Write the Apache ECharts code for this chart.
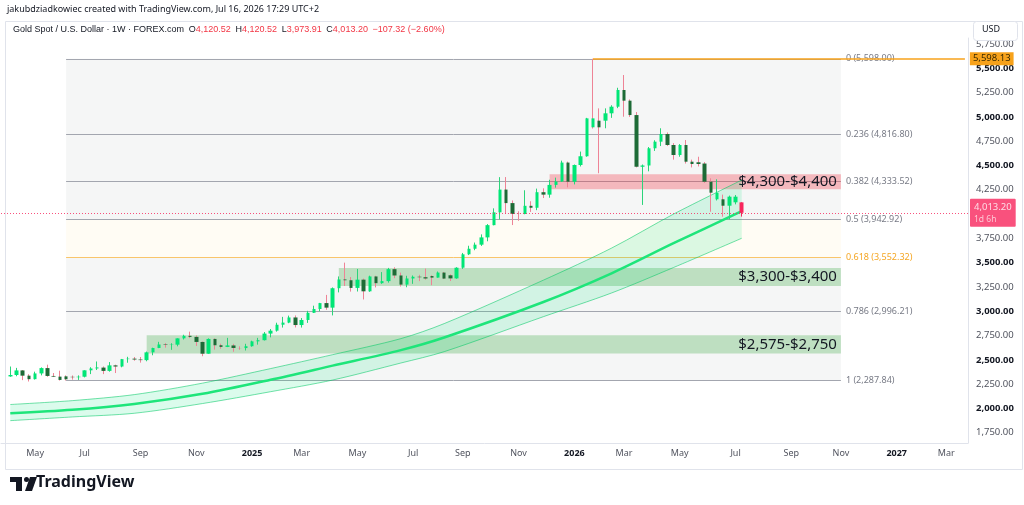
<!DOCTYPE html>
<html>
<head>
<meta charset="utf-8">
<script src="https://cdn.jsdelivr.net/npm/echarts@6/dist/echarts.min.js"></script>
<style>
html,body{margin:0;padding:0;background:#ffffff;}
#chart{width:1024px;height:505px;}
</style>
</head>
<body>
<div id="chart"></div>
<script>
// ---------------- DATA ----------------
const axisStart = '2024-04-01';          // first (empty) weekly slot on the time axis
const axisWeeks = 156;                    // weekly slots shown (to Mar 2027)
const firstCandle = '2024-04-08';         // first weekly candle

const opens  = [2329,2344,2391,2337,2301,2360,2415,2334,2327,2330,2325,2321,2326,2392,2411,2420,2386,2443,2431,2507,2512,2503,2497,2577,2622,2658,2653,2656,2721,2747,2736,2684,2563,2715,2650,2633,2648,2622,2621,2640,2690,2702,2770,2800,2861,2883,2936,2858,2910,2984,3023,3084,3037,3237,3327,3319,3240,3325,3205,3358,3289,3310,3433,3368,3274,3337,3355,3350,3362,3346,3398,3370,3338,3448,3586,3643,3685,3760,3886,4018,4252,4113,4002,4001,4085,4065,4225,4200,4300,4335,4530,4333,4505,4595,4893,4961,4961,5037,5105,5277,5167,5019,4487,4500,4677,4745,4824,4711,4608,4711,4539,4533,4520,4333,4152,4152,4086,4121,4120.52];
const highs  = [2431,2417,2395,2352,2378,2422,2450,2364,2388,2340,2339,2340,2393,2424,2483,2432,2477,2450,2509,2531,2529,2529,2585,2625,2685,2672,2671,2722,2758,2790,2750,2688,2721,2721,2666,2726,2664,2639,2665,2697,2726,2786,2817,2882,2942,2955,2957,2930,3004,3057,3086,3168,3245,3358,3500,3352,3435,3336,3366,3365,3403,3446,3452,3398,3365,3368,3375,3439,3370,3409,3404,3380,3453,3600,3674,3707,3791,3897,4059,4380,4381,4140,4029,4245,4132,4262,4265,4353,4375,4550,4540,4510,4643,4990,5598.13,5088,5088,5120,5300,5431,5180,5050,4510,4690,4760,4883,4840,4730,4720,4762,4560,4590,4535,4368,4358,4200,4190,4196,4120.52];
const lows   = [2325,2331,2291,2277,2297,2340,2325,2323,2287,2287,2296,2293,2319,2353,2395,2353,2378,2364,2423,2470,2491,2471,2485,2547,2620,2625,2603,2639,2709,2723,2643,2537,2563,2605,2614,2631,2583,2603,2596,2635,2656,2699,2731,2790,2832,2877,2833,2832,2880,2982,3000,3015,2957,3194,3260,3202,3203,3121,3200,3245,3282,3294,3340,3255,3247,3282,3310,3325,3268,3346,3331,3311,3334,3436,3578,3628,3672,3720,3884,3945,4004,3887,3931,3998,4022,4040,4165,4168,4272,4330,4275,4305,4490,4590,4880,4420,4883,4990,5090,5002,5000,4480,4094,4440,4650,4700,4700,4560,4590,4520,4480,4490,4320,4024,4140,3973,3946,4100,3973.91];
const closes = [2344,2391,2337,2301,2360,2415,2334,2327,2293,2300,2321,2326,2392,2411,2422,2386,2443,2431,2507,2512,2503,2497,2577,2622,2658,2653,2656,2721,2747,2736,2684,2563,2715,2650,2633,2648,2622,2621,2640,2690,2702,2770,2800,2861,2883,2936,2858,2910,2984,3023,3084,3037,3237,3327,3319,3240,3325,3205,3358,3289,3310,3433,3368,3274,3337,3355,3350,3337,3346,3398,3336,3338,3448,3586,3643,3685,3760,3886,4018,4252,4113,4002,4001,4085,4065,4225,4200,4300,4335,4530,4333,4505,4595,4985,4985,4893,5037,5105,5277,5167,5019,4487,4500,4677,4745,4824,4711,4608,4711,4539,4515,4515,4333,4220,4220,4086,4179,4179,4013.20];

// regression channel (lower / middle / upper)
const bandDates = ['2024-04-08','2024-06-17','2024-08-26','2024-11-11','2025-01-27','2025-04-07','2025-06-23','2025-08-11','2025-12-01','2026-02-16','2026-04-27','2026-07-13'];
const bandLower = [1874,1912,1950,2050,2172,2292,2467,2584,2944,3188,3450,3751];
const bandMid   = [1950,1985,2045,2150,2295,2440,2600,2730,3095,3390,3700,4030];
const bandUpper = [2040,2080,2142,2260,2410,2553,2718,2873,3320,3650,4000,4350];

// Fibonacci retracement
const fibFrom = '2024-06-10';
const fibTo = '2026-11-02';
const fibRatios = ['0','0.236','0.382','0.5','0.618','0.786','1'];
const fibPrices = [5598.00,4816.80,4333.52,3942.92,3552.32,2996.21,2287.84];

// support / resistance zones
const zoneFrom   = ['2025-12-08','2025-04-14','2024-09-09'];
const zoneLow    = [4255,3260,2565];
const zoneHigh   = [4410,3445,2753];
const zoneLabels = ['$4,300-$4,400','$3,300-$3,400','$2,575-$2,750'];
const zoneIsRed  = [true,false,false];

// price markers
const athDate = '2026-01-26';
const athPrice = 5598.13;
const lastPrice = 4013.20;
const lastPriceCountdown = '1d 6h';

const yTicks = [1750,2000,2250,2500,2750,3000,3250,3500,3750,4000,4250,4500,4750,5000,5250,5500,5750];
const monthNames = ['Jan','Feb','Mar','Apr','May','Jun','Jul','Aug','Sep','Oct','Nov','Dec'];

const headerLine1 = 'jakubdziadkowiec created with TradingView.com, Jul 16, 2026 17:29 UTC+2';
const symbolTitle = 'Gold Spot / U.S. Dollar · 1W · FOREX.com';
const ohlcText = {O:'4,120.52', H:'4,120.52', L:'3,973.91', C:'4,013.20', chg:'−107.32 (−2.60%)'};

// ---------------- BUILD ----------------
function iso(t){ const d=new Date(t); return d.toISOString().slice(0,10); }
const startT = Date.parse(axisStart+'T00:00:00Z');
const categories = [];
for (let i=0;i<axisWeeks;i++) categories.push(iso(startT + i*7*864e5));
const firstIdx = categories.indexOf(firstCandle);
const lastIdx = firstIdx + opens.length - 1;
const athIdx = categories.indexOf(athDate);
const lastCat = categories[categories.length-1];

const UP='#00e676', DOWN='#1d6b36', DOWN_WICK='#ee8396', UP_WICK='#2bd47a', BELOW='#f7265c';

const wickData = categories.map((c,i)=>{
  const k=i-firstIdx;
  if (k<0 || k>=opens.length) return ['-','-','-','-'];
  return [opens[k],closes[k],lows[k],highs[k]];
});
const bodyData = categories.map((c,i)=>{
  const k=i-firstIdx;
  if (k<0 || k>=opens.length) return ['-','-','-','-'];
  const lo=Math.min(opens[k],closes[k]), hi=Math.max(opens[k],closes[k]);
  const item = {value:[opens[k],closes[k],lo,hi]};
  if (k===opens.length-1) item.itemStyle={color0:BELOW, borderColor0:BELOW};
  return item;
});
wickData[lastIdx] = {value: wickData[lastIdx], itemStyle:{borderColor0:BELOW}};
wickData[athIdx] = {value: wickData[athIdx], itemStyle:{borderColor:DOWN_WICK}};

const fmt2 = v => v.toLocaleString('en-US',{minimumFractionDigits:2, maximumFractionDigits:2});

// fib fills & lines
const fibFillColors = ['rgba(120,123,134,0.07)','rgba(120,123,134,0.07)','rgba(120,123,134,0.07)','rgba(255,220,120,0.08)','rgba(120,123,134,0.07)','rgba(120,123,134,0.07)'];
const fibAreas = [];
for (let i=0;i<fibPrices.length-1;i++){
  fibAreas.push([{coord:[fibFrom,fibPrices[i]], itemStyle:{color:fibFillColors[i]}},{coord:[fibTo,fibPrices[i+1]]}]);
}
const fibLines = fibPrices.map((p,i)=>{
  const orange = fibRatios[i]==='0.618';
  return [{coord:[fibFrom,p], lineStyle:{color: orange?'#f9c56a':'#a3a6af', width:1, type:'solid'},
           label:{show:true, position:'end', distance:5, formatter: fibRatios[i]+' ('+fmt2(p)+')',
                  color: orange?'#f5a623':'#787b86', fontSize:9, padding:[0,0,20,0]}},
          {coord:[fibTo,p]}];
});

const zoneAreas = zoneFrom.map((f,i)=>[
  {coord:[f,zoneHigh[i]], itemStyle:{color: zoneIsRed[i]?'rgba(242,54,69,0.32)':'rgba(76,175,80,0.32)'},
   label:{show:true, position:'insideRight', distance:4, formatter: zoneLabels[i], color:'#131722', fontSize:15}},
  {coord:[fibTo,zoneLow[i]]}
]);

const bandDiff = bandUpper.map((u,i)=>u-bandLower[i]);
const bandLine = {type:'line', smooth:0.3, symbol:'none', silent:true};

const option = {
  animation:false,
  backgroundColor:'#ffffff',
  textStyle:{fontFamily:"'Noto Sans', 'DejaVu Sans', sans-serif"},
  grid:{left:1, right:56, top:38, bottom:62, outerBoundsMode:'none'},
  xAxis:{
    type:'category', data:categories, boundaryGap:true, z:0,
    axisLine:{show:true, lineStyle:{color:'#e0e3eb'}},
    axisTick:{show:false},
    splitLine:{show:false},
    axisLabel:{
      interval:(idx,val)=>{ const d=new Date(val+'T00:00:00Z'); return d.getUTCDate()<=7 && d.getUTCMonth()%2===0; },
      formatter:(val)=>{ const d=new Date(val+'T00:00:00Z'); return d.getUTCMonth()===0 ? '{y|'+d.getUTCFullYear()+'}' : monthNames[d.getUTCMonth()]; },
      color:'#50535e', fontSize:9, margin:6,
      rich:{y:{fontWeight:'bold', color:'#131722', fontSize:9}}
    }
  },
  yAxis:{
    type:'value', position:'right', min:1644, max:5812, scale:true, z:0,
    axisLine:{show:true, lineStyle:{color:'#e0e3eb'}},
    axisTick:{show:false},
    splitLine:{show:false},
    axisLabel:{
      customValues: yTicks,
      margin:8, fontSize:9.5, color:'#50535e',
      // like TradingView: axis labels under the live-price tag are hidden
      formatter:(v)=> Math.abs(v-lastPrice) < 50 ? '' : (v%500===0 ? '{b|'+fmt2(v)+'}' : fmt2(v)),
      rich:{b:{fontWeight:'bold', color:'#131722', fontSize:9.5}}
    }
  },
  series:[
    { // fib
      type:'line', data:[], z:1, silent:true,
      markArea:{silent:true, z:1, data: fibAreas},
      markLine:{silent:true, z:2, symbol:['none','none'], data: fibLines}
    },
    { // zones
      type:'line', data:[], z:3, silent:true,
      markArea:{silent:true, z:3, data: zoneAreas}
    },
    Object.assign({}, bandLine, { // channel base
      name:'bandBase', stack:'band', z:4,
      data: bandDates.map((d,i)=>[d,bandLower[i]]),
      lineStyle:{width:0, opacity:0}
    }),
    Object.assign({}, bandLine, { // channel fill
      name:'bandFill', stack:'band', z:4,
      data: bandDates.map((d,i)=>[d,bandDiff[i]]),
      lineStyle:{width:0, opacity:0},
      areaStyle:{color:'rgba(0,230,118,0.2)'}
    }),
    Object.assign({}, bandLine, {
      z:5, data: bandDates.map((d,i)=>[d,bandUpper[i]]),
      lineStyle:{width:1, color:'rgba(0,200,100,0.55)'}
    }),
    Object.assign({}, bandLine, {
      z:5, data: bandDates.map((d,i)=>[d,bandLower[i]]),
      lineStyle:{width:1, color:'rgba(0,200,100,0.55)'}
    }),
    Object.assign({}, bandLine, {
      z:5, data: bandDates.map((d,i)=>[d,bandMid[i]]),
      lineStyle:{width:2.5, color:'#1ee57a'}
    }),
    { // wicks
      type:'candlestick', z:6, barWidth:1, silent:true,
      data: wickData,
      itemStyle:{color:UP_WICK, color0:DOWN_WICK, borderColor:UP_WICK, borderColor0:DOWN_WICK, borderWidth:1}
    },
    { // bodies
      type:'candlestick', z:7, barWidth:4, silent:true,
      data: bodyData,
      itemStyle:{color:UP, color0:DOWN, borderColor:UP, borderColor0:DOWN, borderWidth:0},
      markLine:{
        silent:true, z:20, symbol:['none','none'],
        data:[
          {yAxis:lastPrice, lineStyle:{color:'#f7265c', type:[1,2], width:1, opacity:0.8},
           label:{show:true, position:'end', distance:2, formatter:'{p|'+fmt2(lastPrice)+'}\n{t|'+lastPriceCountdown+'}',
                  backgroundColor:'#f7265c', padding:[3,4,2,4], borderRadius:1,
                  rich:{p:{color:'#ffffff', fontSize:9.5, lineHeight:12}, t:{color:'#ffe3ea', fontSize:8.5, lineHeight:11}}}},
          [{coord:[athDate,athPrice], lineStyle:{color:'#f7a21b', width:1.5, type:'solid'},
            label:{show:true, position:'end', distance:5, formatter:fmt2(athPrice), backgroundColor:'#f7a21b',
                   color:'#3a2a00', fontSize:9.5, padding:[2,3,1,3]}},
           {coord:[lastCat,athPrice]}],
          [{coord:[athDate,athPrice], lineStyle:{opacity:0, width:0},
            label:{show:true, position:'insideEndBottom', distance:4, formatter:'ATH', color:'#f7a21b', fontSize:14, fontWeight:'bold'}},
           {coord:[lastCat,athPrice]}]
        ]
      }
    }
  ],
  graphic:[
    {type:'rect', left:3, top:19, shape:{width:1017, height:448}, style:{fill:'none', stroke:'#e0e3eb', lineWidth:1}, z:0, silent:true},
    {type:'text', left:7, top:5, style:{text:headerLine1, fontSize:9, fill:'#131722', fontFamily:"'Noto Sans', sans-serif"}, z:10},
    {type:'text', left:13, top:25, z:10, style:{
      text:'{t|'+symbolTitle+'}  {l|O}{v|'+ohlcText.O+'}  {l|H}{v|'+ohlcText.H+'}  {l|L}{v|'+ohlcText.L+'}  {l|C}{v|'+ohlcText.C+'}  {v|'+ohlcText.chg+'}',
      fontFamily:"'Noto Sans', sans-serif", fontSize:9,
      rich:{t:{fill:'#131722', fontSize:9}, l:{fill:'#131722', fontSize:9}, v:{fill:'#f23645', fontSize:9}}
    }},
    {type:'rect', left:973, top:21, shape:{width:44, height:19, r:3}, style:{fill:'#ffffff', stroke:'#e0e3eb', lineWidth:1}, z:30},
    {type:'text', left:982, top:25, z:31, style:{text:'USD', fontSize:9, fill:'#131722', fontFamily:"'Noto Sans', sans-serif"}},
    // TradingView logo
    {type:'group', left:10, top:477, z:10, children:[
      {type:'rect', shape:{x:0,y:0,width:12,height:5}, style:{fill:'#131722'}},
      {type:'rect', shape:{x:6,y:0,width:6,height:14}, style:{fill:'#131722'}},
      {type:'circle', shape:{cx:16.5,cy:2.5,r:2.5}, style:{fill:'#131722'}},
      {type:'polygon', shape:{points:[[20,0],[27,0],[22,14],[15,14]]}, style:{fill:'#131722'}}
    ]},
    {type:'text', left:36, top:474, z:10, style:{text:'TradingView', fontSize:16, fontWeight:'bold', fill:'#131722', fontFamily:"'Noto Sans', sans-serif"}}
  ]
};

const chart = echarts.init(document.getElementById('chart'), null, {renderer:'canvas'});
chart.setOption(option);
</script>
</body>
</html>
